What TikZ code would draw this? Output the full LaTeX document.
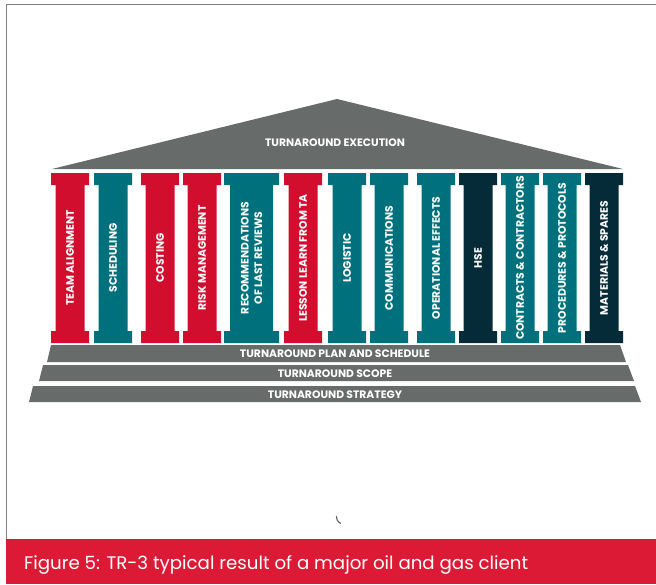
\documentclass[tikz,border=0pt]{standalone}
\usepackage{fontspec}
\setmainfont{Poppins}
\definecolor{pillarred}{RGB}{210,14,47}
\definecolor{pillarteal}{RGB}{0,113,124}
\definecolor{pillardark}{RGB}{5,43,56}
\definecolor{roofgray}{RGB}{103,107,106}
\definecolor{framegray}{RGB}{128,128,132}
\definecolor{captionred}{RGB}{220,26,53}
\begin{document}
\begin{tikzpicture}[x=1pt,y=1pt,yscale=-1,xscale=1,
  pillartext/.style={text=white,font=\fontsize{10.8}{13.5}\selectfont\bfseries,rotate=90,inner sep=0.75pt,align=center},
  steptext/.style={text=white,font=\fontsize{10.8}{13}\selectfont\bfseries,inner sep=0.75pt},
  stepshape/.style={fill=roofgray,draw opacity=0}]
\useasboundingbox (0,0) rectangle (656,584);
%Shape: Frame
\draw [color=framegray,line width=1.5] (656,4.5) -- (6.5,4.5) -- (6.5,539);
%Shape: Roof
\fill [roofgray] (52,169) -- (337,99) -- (623,169) -- cycle ;
%Shape: Pillars
\fill [pillarred] (51,173) rectangle (89,185) (55.5,185) rectangle (84.5,331) (51,331) rectangle (89,343);
\fill [pillarteal] (94,173) rectangle (132,185) (98.5,185) rectangle (127.5,331) (94,331) rectangle (132,343);
\fill [pillarred] (141,173) rectangle (179,185) (145.5,185) rectangle (174.5,331) (141,331) rectangle (179,343);
\fill [pillarred] (183,173) rectangle (221,185) (187.5,185) rectangle (216.5,331) (183,331) rectangle (221,343);
\fill [pillarteal] (224,173) rectangle (279,185) (230,185) rectangle (273,331) (224,331) rectangle (279,343);
\fill [pillarred] (284,173) rectangle (322,185) (288.5,185) rectangle (317.5,331) (284,331) rectangle (322,343);
\fill [pillarteal] (328,173) rectangle (366,185) (332.5,185) rectangle (361.5,331) (328,331) rectangle (366,343);
\fill [pillarteal] (370,173) rectangle (408,185) (374.5,185) rectangle (403.5,331) (370,331) rectangle (408,343);
\fill [pillarteal] (417,173) rectangle (455,185) (421.5,185) rectangle (450.5,331) (417,331) rectangle (455,343);
\fill [pillardark] (459,173) rectangle (497,185) (463.5,185) rectangle (492.5,331) (459,331) rectangle (497,343);
\fill [pillarteal] (501,173) rectangle (539,185) (505.5,185) rectangle (534.5,331) (501,331) rectangle (539,343);
\fill [pillarteal] (543,173) rectangle (581,185) (547.5,185) rectangle (576.5,331) (543,331) rectangle (581,343);
\fill [pillardark] (585,173) rectangle (623,185) (589.5,185) rectangle (618.5,331) (585,331) rectangle (623,343);
%Shape: Steps
\draw [stepshape] (51,345) -- (620,345) -- (626,362) -- (47,362) -- cycle ;
\draw [stepshape] (43,365) -- (628,365) -- (634,381) -- (39,381) -- cycle ;
\draw [stepshape] (33,386) -- (635,386) -- (641,402) -- (29,402) -- cycle ;
%Shape: Tick
\draw [color=roofgray,line width=1.2,line cap=round] (336.5,516.5) .. controls (337,520.5) .. (340.5,523.5) ;
%Shape: Caption bar
\fill [captionred] (6,539) rectangle (656,584);
% Text Node
\node (execution) [steptext] at (335,143) {TURNAROUND EXECUTION};
% Text Node
\node (team) [pillartext] at (70,258) {TEAM ALIGNMENT};
% Text Node
\node (scheduling) [pillartext] at (113,258) {SCHEDULING};
% Text Node
\node (costing) [pillartext] at (160,258) {COSTING};
% Text Node
\node (risk) [pillartext] at (202,258) {RISK MANAGEMENT};
% Text Node
\node (reviews) [pillartext] at (251.5,258) {RECOMMENDATIONS\\OF LAST REVIEWS};
% Text Node
\node (lesson) [pillartext] at (303,258) {LESSON LEARN FROM TA};
% Text Node
\node (logistic) [pillartext] at (347,258) {LOGISTIC};
% Text Node
\node (communications) [pillartext] at (389,258) {COMMUNICATIONS};
% Text Node
\node (operational) [pillartext] at (436,258) {OPERATIONAL EFFECTS};
% Text Node
\node (hse) [pillartext] at (478,258) {HSE};
% Text Node
\node (contracts) [pillartext] at (520,258) {CONTRACTS \& CONTRACTORS};
% Text Node
\node (procedures) [pillartext] at (562,258) {PROCEDURES \& PROTOCOLS};
% Text Node
\node (materials) [pillartext] at (604,258) {MATERIALS \& SPARES};
% Text Node
\node (plan) [steptext] at (335,354) {TURNAROUND PLAN AND SCHEDULE};
% Text Node
\node (scope) [steptext] at (335,373.5) {TURNAROUND SCOPE};
% Text Node
\node (strategy) [steptext] at (335,394.5) {TURNAROUND STRATEGY};
% Text Node
\node (caption) [anchor=base west,inner sep=0pt,text=white,font=\fontsize{18.2}{21}\selectfont] at (24,569) {Figure 5: TR-3 typical result of a major oil and gas client};
\end{tikzpicture}
\end{document}
